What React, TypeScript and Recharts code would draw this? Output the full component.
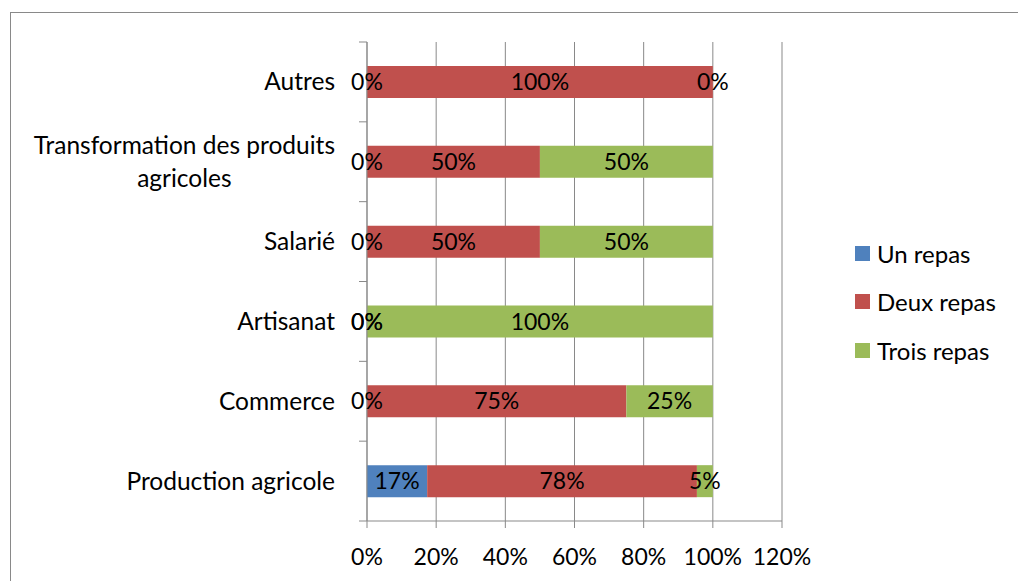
import { Bar, BarChart, CartesianGrid, LabelList, Legend, XAxis, YAxis } from "recharts";

const categories = [
    "Autres",
    "Transformation des produits agricoles",
    "Salarié",
    "Artisanat",
    "Commerce",
    "Production agricole",
];
const unRepas = [0, 0, 0, 0, 0, 17.4];
const deuxRepas = [100, 50, 50, 0, 75, 78.0];
const troisRepas = [0, 50, 50, 100, 25, 4.6];
const xTicks = [0, 20, 40, 60, 80, 100, 120];

const series = [
    { key: "un", name: "Un repas", color: "#4F81BD" },
    { key: "deux", name: "Deux repas", color: "#C0504D" },
    { key: "trois", name: "Trois repas", color: "#9BBB59" },
];

const data = categories.map((name, i) => ({
    name,
    un: unRepas[i],
    deux: deuxRepas[i],
    trois: troisRepas[i],
}));

const FONT = "Lato";
const NUM_SIZE = 23;
const CAT_SIZE = 24.5;
const GRID = "#898989";

let ctx: CanvasRenderingContext2D | null = null;
function measure(text: string) {
    if (!ctx) ctx = document.createElement("canvas").getContext("2d");
    if (!ctx) return text.length * CAT_SIZE * 0.5;
    ctx.font = `${CAT_SIZE}px ${FONT}`;
    return ctx.measureText(text).width;
}

function wrap(text: string, maxW: number) {
    const words = text.split(" ");
    const lines: string[] = [];
    let cur = "";
    for (const w of words) {
        const next = cur ? cur + " " + w : w;
        if (cur && measure(next) > maxW) {
            lines.push(cur);
            cur = w;
        } else cur = next;
    }
    if (cur) lines.push(cur);
    return lines;
}

function CategoryTick(props: any) {
    const { x, y, payload, index, visibleTicksCount } = props;
    const half = payload?.offset || 40;
    const lines = wrap(String(payload.value), 320);
    const maxW = Math.max(...lines.map(measure));
    const right = x - 32;
    const lh = 33;
    const start = -((lines.length - 1) * lh) / 2;
    const multi = lines.length > 1;
    return (
        <g>
            <line x1={x - 8} x2={x} y1={y - half} y2={y - half} stroke={GRID} />
            {index === visibleTicksCount - 1 && (
                <line x1={x - 8} x2={x} y1={y + half} y2={y + half} stroke={GRID} />
            )}
            <text
                textAnchor={multi ? "middle" : "end"}
                fill="#000"
                fontSize={CAT_SIZE}
                fontFamily={FONT}
            >
                {lines.map((l, i) => (
                    <tspan key={i} x={multi ? right - maxW / 2 : right} y={y + start + i * lh} dy="0.35em">
                        {l}
                    </tspan>
                ))}
            </text>
        </g>
    );
}

function renderLabel(props: any) {
    const { x, y, width, height, value } = props;
    return (
        <text
            x={x + width / 2}
            y={y + height / 2}
            dy="0.35em"
            textAnchor="middle"
            fill="#000"
            fontSize={NUM_SIZE}
            fontFamily={FONT}
        >
            {Math.round(value)}%
        </text>
    );
}

function LegendBox() {
    return (
        <div style={{ fontFamily: FONT, fontSize: 24, color: "#000" }}>
            {series.map((s) => (
                <div key={s.key} style={{ display: "flex", alignItems: "center", height: 48.5 }}>
                    <span style={{ width: 15, height: 15, background: s.color, display: "inline-block" }} />
                    <span style={{ marginLeft: 7 }}>{s.name}</span>
                </div>
            ))}
        </div>
    );
}

export default function App() {
    return (
        <div
            style={{
                position: "absolute",
                left: 0,
                top: 0,
                width: 1018,
                height: 581,
                overflow: "hidden",
                background: "#fff",
                fontFamily: FONT,
            }}
        >
            <div
                style={{
                    position: "absolute",
                    left: 10,
                    top: 12,
                    width: 1030,
                    height: 620,
                    border: `1px solid ${GRID}`,
                }}
            />
            <div style={{ position: "absolute", left: 0, top: 0 }}>
                <BarChart
                    width={1018}
                    height={581}
                    data={data}
                    layout="vertical"
                    barSize={32}
                    margin={{ top: 42, right: 236, bottom: 0, left: 0 }}
                >
                    <CartesianGrid horizontal={false} vertical stroke={GRID} />
                    <XAxis
                        type="number"
                        domain={[0, 120]}
                        ticks={xTicks}
                        interval={0}
                        tickFormatter={(v) => `${v}%`}
                        axisLine={{ stroke: GRID }}
                        tickLine={{ stroke: GRID }}
                        tickSize={7}
                        tickMargin={21}
                        tick={{ fill: "#000", fontSize: NUM_SIZE, fontFamily: FONT }}
                        height={60}
                    />
                    <YAxis
                        type="category"
                        dataKey="name"
                        width={367}
                        axisLine={{ stroke: GRID }}
                        tickLine={false}
                        tickSize={0}
                        tickMargin={0}
                        tick={<CategoryTick />}
                        interval={0}
                    />
                    <Legend
                        layout="vertical"
                        verticalAlign="middle"
                        align="center"
                        wrapperStyle={{ left: 855, top: 229, width: 160 }}
                        content={() => <LegendBox />}
                    />
                    {series.map((s) => (
                        <Bar
                            key={s.key}
                            dataKey={s.key}
                            name={s.name}
                            stackId="a"
                            fill={s.color}
                            minPointSize={0.01}
                            isAnimationActive={false}
                        >
                            <LabelList dataKey={s.key} content={renderLabel} />
                        </Bar>
                    ))}
                </BarChart>
            </div>
        </div>
    );
}
